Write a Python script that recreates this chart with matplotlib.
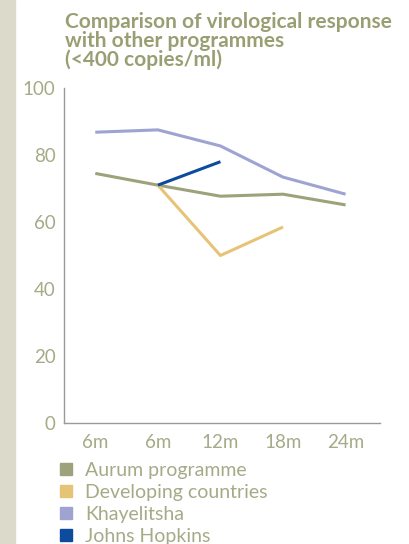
import matplotlib
matplotlib.use("Agg")
import matplotlib.pyplot as plt
from matplotlib.lines import Line2D
from matplotlib.patches import Rectangle

categories = ["6m", "6m", "12m", "18m", "24m"]
aurum = [74.5, 71.0, 67.7, 68.3, 65.1]
developing = [None, 71.0, 50.0, 58.5, None]
khayelitsha = [86.8, 87.5, 82.7, 73.4, 68.3]
johns_hopkins = [None, 71.0, 78.0, None, None]
series_names = ["Aurum programme", "Developing countries", "Khayelitsha", "Johns Hopkins"]
yticks = [0, 20, 40, 60, 80, 100]

colors = ["#9da27a", "#e6c477", "#9ea3d1", "#0d4b9c"]
text_col = "#a6aa87"
title_col = "#9a9f73"

plt.rcParams["font.family"] = ["Lato", "DejaVu Sans"]

fig = plt.figure(figsize=(4.1, 5.44), dpi=100)
fig.patches.append(Rectangle((0, 0), 15 / 410, 1, transform=fig.transFigure,
                             color="#dcdacb", zorder=0))

ax = fig.add_axes([64 / 410, 121 / 544, 316 / 410, 335 / 544])
x = list(range(len(categories)))
for vals, c in zip([aurum, developing, khayelitsha, johns_hopkins], colors):
    xs = [i for i, v in zip(x, vals) if v is not None]
    ys = [v for v in vals if v is not None]
    ax.plot(xs, ys, color=c, lw=2.2, solid_capstyle="butt")

ax.set_xlim(-0.5, 4.55)
ax.set_ylim(0, 100)
ax.set_yticks(yticks)
ax.set_xticks(x)
ax.set_xticklabels(categories)
ax.tick_params(length=0, labelsize=13.5, colors=text_col)
ax.tick_params(axis="x", pad=8)
ax.tick_params(axis="y", pad=6)
for s in ("top", "right"):
    ax.spines[s].set_visible(False)
for s in ("left", "bottom"):
    ax.spines[s].set_color("#9a9a9a")
    ax.spines[s].set_linewidth(1.0)

fig.text(65 / 410, 1 - 12 / 544, "Comparison of virological response\nwith other programmes\n(<400 copies/ml)",
         color=title_col, fontsize=15, fontweight="bold", va="top", ha="left",
         linespacing=0.92)

handles = [Line2D([], [], marker="s", ls="none", color=c, markersize=8) for c in colors]
fig.legend(handles, series_names, loc="upper left", bbox_to_anchor=(56 / 410, 1 - 462 / 544),
           frameon=False, fontsize=14, labelcolor=text_col, handlelength=1.0,
           handletextpad=0.5, labelspacing=0.25, borderaxespad=0, borderpad=0)

fig.savefig("out.png", dpi=100)
